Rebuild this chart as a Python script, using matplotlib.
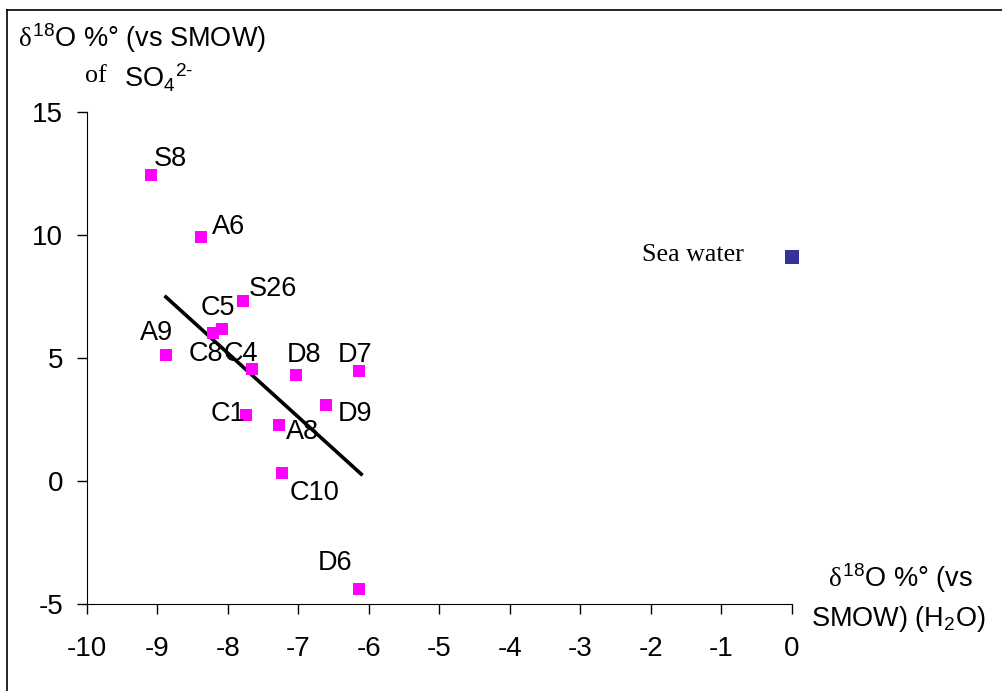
import matplotlib.pyplot as plt
from matplotlib.lines import Line2D

plt.rcParams["font.family"] = ["Liberation Sans", "DejaVu Sans"]
plt.rcParams["mathtext.fontset"] = "custom"
plt.rcParams["mathtext.rm"] = "Liberation Sans"
plt.rcParams["mathtext.it"] = "Liberation Serif"
plt.rcParams["mathtext.default"] = "regular"
plt.rcParams["axes.unicode_minus"] = False

# ---------------- data ----------------
samples = ["S8", "A6", "S26", "C5", "C8", "A9", "C4", "D8", "D7", "D9", "C1", "A8", "C10", "D6"]
d18o_h2o = [-9.09, -8.38, -7.79, -8.09, -8.21, -8.88, -7.66, -7.04, -6.14, -6.61, -7.74, -7.28, -7.23, -6.14]
d18o_so4 = [12.44, 9.92, 7.32, 6.18, 6.02, 5.12, 4.55, 4.31, 4.47, 3.09, 2.68, 2.28, 0.33, -4.39]

sea_x = [0.0]
sea_y = [9.11]

trend_x = [-8.88, -6.11]
trend_y = [7.48, 0.28]

# label offsets (pixels)
offsets = {
    "S8": (19, 16), "A6": (27, 10), "S26": (30, 12), "C5": (-4, 21),
    "C8": (-7, -21), "A9": (-9, 22), "C4": (-11, 15), "D8": (8, 20),
    "D7": (-4, 16), "D9": (29, -9), "C1": (-18, 1), "A8": (24, -7),
    "C10": (32, -20), "D6": (-24, 26),
}

fs = 19.5

fig = plt.figure(figsize=(10.03, 6.91), dpi=100)
ax = fig.add_axes([0.0867, 0.1259, 0.7029, 0.712])

ax.plot(d18o_h2o, d18o_so4, "s", color="#ff00ff", ms=8.5, mew=0, clip_on=False, zorder=3)
ax.plot(sea_x, sea_y, "s", color="#333399", ms=10.5, mew=0, clip_on=False, zorder=3)
ax.plot(trend_x, trend_y, color="black", lw=2.6, zorder=2)

for name, x, y in zip(samples, d18o_h2o, d18o_so4):
    ax.annotate(name, (x, y), xytext=offsets[name], textcoords="offset pixels",
                ha="center", va="center", fontsize=fs)

ax.annotate("Sea water", (sea_x[0], sea_y[0]), xytext=(-99, 2), textcoords="offset pixels",
            ha="center", va="center", fontsize=18.7, family="Liberation Serif")

ax.set_xlim(-10, 0)
ax.set_ylim(-5, 15)
ax.set_xticks(range(-10, 1))
ax.set_yticks([-5, 0, 5, 10, 15])
ax.spines["top"].set_visible(False)
ax.spines["right"].set_visible(False)
ax.tick_params(direction="out", length=7, width=1, labelsize=20)
ax.tick_params(axis="x", pad=16)
ax.tick_params(axis="y", pad=10)

# axis titles
fig.text(18 / 1003, 1 - 38 / 691, r"$\mathit{\delta}^{18}$O %° (vs SMOW)", fontsize=fs, ha="left", va="center")
fig.text(85 / 1003, 1 - 76 / 691, "of", fontsize=18.7, family="Liberation Serif", ha="left", va="center")
fig.text(124 / 1003, 1 - 78 / 691, r"SO$_4$$^{2\text{-}}$", fontsize=fs, ha="left", va="center")
fig.text(900 / 1003, 1 - 578 / 691, r"$\mathit{\delta}^{18}$O %° (vs", fontsize=fs, ha="center", va="center")
fig.text(898 / 1003, 1 - 619 / 691, r"SMOW) (H$_2$O)", fontsize=fs, ha="center", va="center")

# frame
fig.add_artist(Line2D([7 / 1003, 1], [1 - 10 / 691, 1 - 10 / 691], color="black", lw=1.2))
fig.add_artist(Line2D([7 / 1003, 7 / 1003], [0, 1 - 10 / 691], color="black", lw=1.2))

fig.savefig("out.png", dpi=100)
